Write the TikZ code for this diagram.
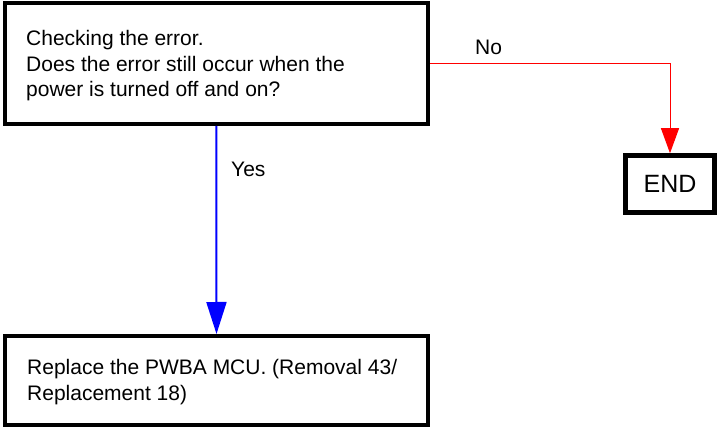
\documentclass[tikz,border=0pt]{standalone}
\usepackage{fontspec}
\setmainfont{Liberation Sans}
\usetikzlibrary{arrows.meta}
\begin{document}
\begin{tikzpicture}[x=1pt,y=-1pt,
  box/.style={draw=black, line width=4pt, fill=white, inner sep=0pt},
  txt/.style={inner sep=0pt, align=left, font=\fontsize{21}{25.7}\selectfont},
  lbl/.style={inner sep=0pt, font=\fontsize{21}{25.7}\selectfont},
  noline/.style={draw=red, line width=1pt, -{Triangle[width=18pt,length=25pt]}},
  yesline/.style={draw=blue, line width=2pt, -{Triangle[width=20pt,length=32pt]}}
]
\useasboundingbox (0,0) rectangle (717,427);
\node[box, minimum width=423.5pt, minimum height=120.5pt] (q) at (216.25,63.75) {};
\node[box, minimum width=423pt, minimum height=88.5pt] (r) at (216.5,380.25) {};
\node[box, line width=4.5pt, minimum width=89pt, minimum height=57pt, font=\fontsize{25}{30}\selectfont] (e) at (670,184) {END};
\node[txt, anchor=base west] (qt) at (26,97) {Checking the error.\\Does the error still occur when the\\power is turned off and on?};
\node[txt, anchor=base west] (rt) at (27,400) {Replace the PWBA MCU. (Removal 43/\\Replacement 18)};
\draw[noline] (q.east) -| (e.north);
\draw[yesline] (q.south) -- (r.north);
\node[lbl, anchor=base west] (no) at (475,55) {No};
\node[lbl, anchor=base west] (yes) at (231,176.5) {Yes};
\end{tikzpicture}
\end{document}
